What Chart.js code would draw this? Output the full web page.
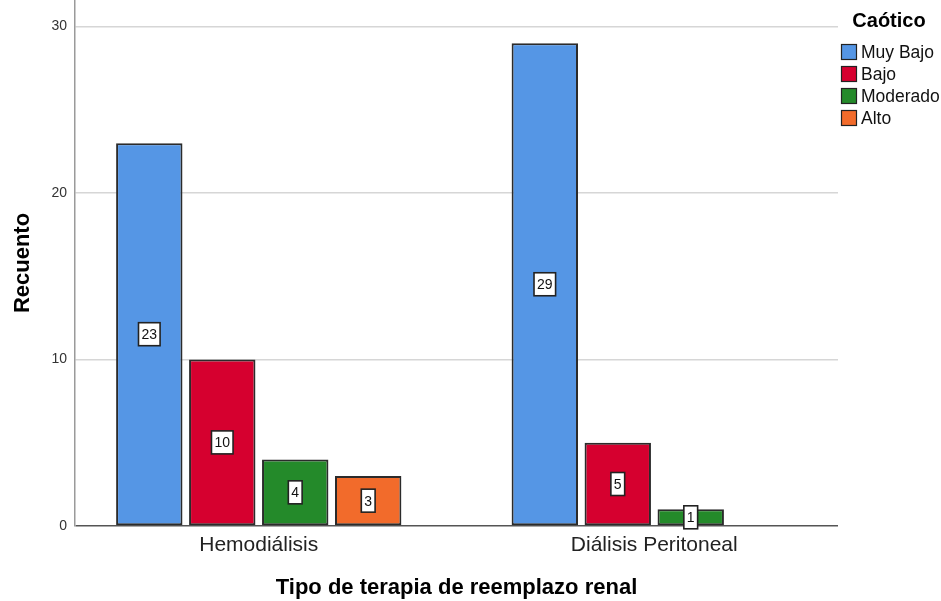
<!DOCTYPE html>
<html>
<head>
<meta charset="utf-8">
<script src="https://cdn.jsdelivr.net/npm/chart.js@4/dist/chart.umd.min.js"></script>
<style>
  html, body { margin: 0; padding: 0; background: #fff; }
  #wrap { width: 941px; height: 601px; position: relative; }
</style>
</head>
<body>
<div id="wrap"><canvas id="myChart"></canvas></div>
<script>
// data
var categories = ["Hemodiálisis", "Diálisis Peritoneal"];
var seriesNames = ["Muy Bajo", "Bajo", "Moderado", "Alto"];
var muyBajo = [23, 29];
var bajo = [10, 5];
var moderado = [4, 1];
var alto = [3, 0];
var yTicks = [0, 10, 20, 30];
var barColors = ["#5596e5", "#d6002f", "#248a2a", "#f26b2b"];

var allSeries = [muyBajo, bajo, moderado, alto];
var datasets = [];
for (var i = 0; i < allSeries.length; i++) {
  datasets.push({
    label: seriesNames[i],
    data: allSeries[i],
    backgroundColor: barColors[i],
    borderColor: "#2b2b2b",
    borderWidth: 2,
    borderSkipped: false,
    categoryPercentage: 0.738,
    barPercentage: 0.91
  });
}

// SPSS puts the groups a bit wider than the plot frame
var xStretch = 14;
var stretchX = {
  id: "stretchX",
  afterLayout: function (chart) {
    var xs = chart.scales.x;
    xs.left = chart.chartArea.left - xStretch;
    xs.right = chart.chartArea.right + xStretch;
    xs.width = xs.right - xs.left;
    xs.configure();
  }
};

// white value boxes in the middle of each bar
var valueBoxes = {
  id: "valueBoxes",
  afterDatasetsDraw: function (chart) {
    var ctx = chart.ctx;
    ctx.save();
    ctx.font = "14px 'Liberation Sans', Arial, sans-serif";
    ctx.textAlign = "center";
    ctx.textBaseline = "middle";
    chart.data.datasets.forEach(function (ds, di) {
      var meta = chart.getDatasetMeta(di);
      meta.data.forEach(function (bar, j) {
        var v = ds.data[j];
        if (!v) return;
        var cy = (bar.y + bar.base) / 2;
        var txt = String(v);
        var w = ctx.measureText(txt).width + 6;
        var h = 23;
        ctx.fillStyle = "#fff";
        ctx.fillRect(bar.x - w / 2, cy - h / 2, w, h);
        ctx.lineWidth = 1.6;
        ctx.strokeStyle = "#222";
        ctx.strokeRect(bar.x - w / 2, cy - h / 2, w, h);
        ctx.fillStyle = "#111";
        ctx.fillText(txt, bar.x, cy + 1);
      });
    });
    ctx.restore();
  }
};

// legend on the right, like the SPSS one
var sideLegend = {
  id: "sideLegend",
  afterDraw: function (chart) {
    var ctx = chart.ctx;
    var x0 = chart.chartArea.right + 3;
    ctx.save();
    ctx.fillStyle = "#000";
    ctx.font = "bold 20px 'Liberation Sans', Arial, sans-serif";
    ctx.textAlign = "center";
    ctx.textBaseline = "middle";
    ctx.fillText("Caótico", x0 + 48, 21);
    ctx.font = "17.5px 'Liberation Sans', Arial, sans-serif";
    ctx.textAlign = "left";
    chart.data.datasets.forEach(function (ds, i) {
      var top = 44 + i * 22;
      ctx.fillStyle = ds.backgroundColor;
      ctx.fillRect(x0, top, 15, 15);
      ctx.lineWidth = 1.2;
      ctx.strokeStyle = "#222";
      ctx.strokeRect(x0 + 0.5, top + 0.5, 15, 15);
      ctx.fillStyle = "#111";
      ctx.fillText(ds.label, x0 + 20, top + 9);
    });
    ctx.restore();
  }
};

new Chart("myChart", {
  type: "bar",
  data: {
    labels: categories,
    datasets: datasets
  },
  plugins: [stretchX, valueBoxes, sideLegend],
  options: {
    responsive: true,
    maintainAspectRatio: false,
    animation: false,
    layout: { padding: { top: 0, right: 103, bottom: 0, left: 0 } },
    plugins: {
      legend: { display: false },
      tooltip: { enabled: false }
    },
    scales: {
      x: {
        grid: { display: false, drawTicks: false },
        border: { display: false },
        ticks: {
          color: "#222",
          padding: 7,
          font: { family: "'Liberation Sans', Arial, sans-serif", size: 21 }
        },
        title: {
          display: true,
          text: "Tipo de terapia de reemplazo renal",
          color: "#000",
          padding: { top: 4, bottom: 0 },
          font: { family: "'Liberation Sans', Arial, sans-serif", size: 22, weight: "bold" }
        },
        afterFit: function (scale) {
          scale.height = 75;
          scale.paddingLeft = 0;
          scale.paddingRight = 0;
        }
      },
      y: {
        min: 0,
        max: 31.6,
        grid: {
          drawTicks: false,
          lineWidth: 1.5,
          color: function (c) { return c.tick && c.tick.value === 0 ? "#555" : "#d6d6d6"; }
        },
        border: { display: true, color: "#9a9a9a", width: 1.5 },
        ticks: {
          stepSize: 10,
          includeBounds: false,
          color: "#333",
          padding: 8,
          font: { family: "'Liberation Sans', Arial, sans-serif", size: 14 }
        },
        afterBuildTicks: function (scale) {
          scale.ticks = yTicks.map(function (v) { return { value: v }; });
        },
        title: {
          display: true,
          text: "Recuento",
          color: "#000",
          padding: { top: 10, bottom: 0 },
          font: { family: "'Liberation Sans', Arial, sans-serif", size: 22, weight: "bold" }
        },
        afterFit: function (scale) {
          scale.width = 75;
          scale.paddingTop = 0;
          scale.paddingBottom = 0;
        }
      }
    }
  }
});
</script>
</body>
</html>
